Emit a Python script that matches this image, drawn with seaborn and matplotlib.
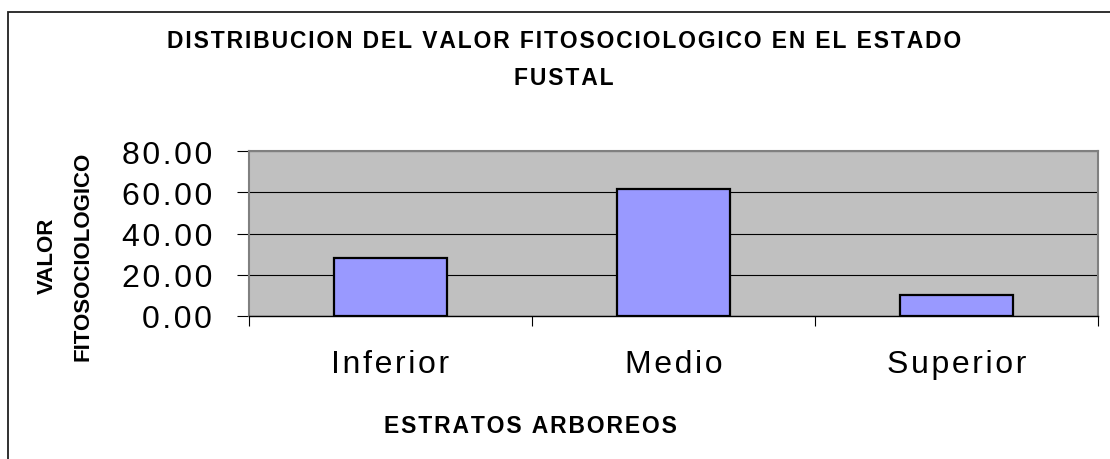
import matplotlib
matplotlib.use("Agg")
import matplotlib.pyplot as plt
from matplotlib.patches import Rectangle
from matplotlib.ticker import FixedLocator, FuncFormatter
import pandas as pd
import seaborn as sns

# Phytosociological value by tree stratum
estratos = ["Inferior", "Medio", "Superior"]
valor_fitosociologico = [28.05, 61.62, 10.33]
y_ticks = [0, 20, 40, 60, 80]

titulo = "DISTRIBUCION DEL VALOR FITOSOCIOLOGICO EN EL ESTADO\nFUSTAL"
etiqueta_x = "ESTRATOS ARBOREOS"
etiqueta_y = "VALOR\nFITOSOCIOLOGICO"

HAIR = "\u200a"


def espaciar(texto, n=1):
    """Widen letter spacing by placing hair spaces between glyphs."""
    sep = HAIR * n
    return "\n".join(sep.join(linea) for linea in texto.split("\n"))


df = pd.DataFrame({"estrato": estratos, "valor": valor_fitosociologico})

sns.set_style("white")
plt.rcParams["font.family"] = ["Liberation Sans", "DejaVu Sans"]
plt.rcParams["text.color"] = "black"

W, H = 1110, 460
fig = plt.figure(figsize=(W / 100, H / 100), dpi=100)
fig.patch.set_facecolor("white")

# plot area in pixel terms
left, right, top, bottom = 249, 1098, 152, 317
ax = fig.add_axes([left / W, (H - bottom) / H, (right - left) / W, (bottom - top) / H])
ax.set_facecolor("#C0C0C0")

sns.barplot(data=df, x="estrato", y="valor", ax=ax, width=0.4,
            color="#9999FF", edgecolor="black", linewidth=1.6,
            saturation=1, zorder=3)

ax.set_xlim(-0.5, len(estratos) - 0.5)
ax.set_ylim(y_ticks[0], y_ticks[-1])
ax.yaxis.set_major_locator(FixedLocator(y_ticks))
ax.yaxis.set_major_formatter(FuncFormatter(lambda v, p: espaciar(f"{v:.2f}")))
ax.set_xticks(range(len(estratos)))
ax.set_xticklabels([espaciar(e) for e in estratos])
ax.grid(axis="y", color="black", linewidth=0.8, zorder=1)
ax.set_axisbelow(True)

# frame: grey top/right/left, black baseline
for side in ("top", "right", "left"):
    ax.spines[side].set_visible(True)
    ax.spines[side].set_color("#808080")
    ax.spines[side].set_linewidth(1.5)
ax.spines["bottom"].set_color("black")
ax.spines["bottom"].set_linewidth(1.0)
ax.spines["top"].set_zorder(5)

# y ticks
ax.tick_params(axis="y", which="major", left=True, length=8.6, width=0.8,
               color="black", pad=18, labelsize=23, labelcolor="black")
# x: labels at category centres, tick marks at category boundaries
ax.tick_params(axis="x", which="major", bottom=True, length=0, pad=24,
               labelsize=23, labelcolor="black")
ax.xaxis.set_minor_locator(FixedLocator([i - 0.5 for i in range(len(estratos) + 1)]))
ax.tick_params(axis="x", which="minor", bottom=True, length=7.5, width=0.8, color="black")

ax.set_xlabel("")
ax.set_ylabel("")

# titles and axis labels
fig.text(564 / W, 1 - 60 / H, espaciar(titulo), ha="center", va="center", fontsize=16.5,
         fontweight="bold", linespacing=1.8, color="black")
fig.text(530 / W, 1 - 427 / H, espaciar(etiqueta_x), ha="center", va="center",
         fontsize=16.5, fontweight="bold", color="black")
fig.text(65 / W, 1 - 256 / H, etiqueta_y, ha="center", va="center",
         fontsize=16, fontweight="bold", rotation=90, linespacing=1.9, color="black")

# chart-area border
fig.patches.append(Rectangle((8 / W, -0.05), 1.2, 1 - 13 / H + 0.05,
                             transform=fig.transFigure, fill=False,
                             edgecolor="#202020", linewidth=1.3, clip_on=False))

fig.savefig("out.png", dpi=100)
